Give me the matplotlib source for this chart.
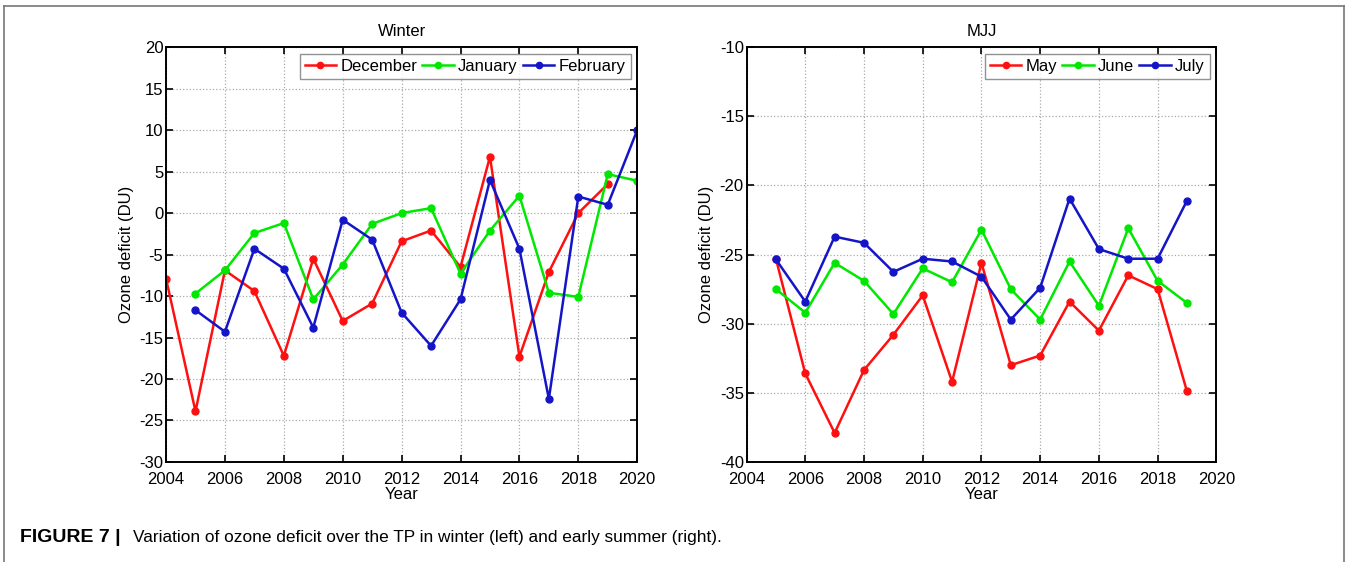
import numpy as np
import matplotlib.pyplot as plt
from matplotlib.lines import Line2D

plt.rcParams['font.family'] = ['Liberation Sans', 'DejaVu Sans']
plt.rcParams['axes.unicode_minus'] = False

# winter months, ozone deficit (DU)
years_dec = np.arange(2004, 2020)
december = [-7.9, -23.9, -6.9, -9.4, -17.2, -5.5, -13.0, -10.9, -3.4, -2.1,
            -6.5, 6.8, -17.3, -7.1, 0.0, 3.5]
years_janfeb = np.arange(2005, 2021)
january = [-9.7, -6.9, -2.4, -1.2, -10.4, -6.2, -1.3, 0.0, 0.6, -7.3,
           -2.1, 2.1, -9.6, -10.1, 4.7, 3.9]
february = [-11.7, -14.3, -4.3, -6.7, -13.8, -0.8, -3.2, -12.0, -16.0, -10.4,
            4.0, -4.3, -22.4, 2.0, 1.0, 10.0]

# early summer months
years_mjj = np.arange(2005, 2020)
may = [-25.3, -33.6, -37.9, -33.35, -30.8, -27.95, -34.2, -25.6, -33.0, -32.3,
       -28.4, -30.5, -26.5, -27.5, -34.9]
june = [-27.5, -29.2, -25.6, -26.9, -29.3, -26.0, -27.0, -23.2, -27.5, -29.7,
        -25.5, -28.7, -23.1, -26.9, -28.5]
july = [-25.35, -28.4, -23.7, -24.15, -26.25, -25.3, -25.5, -26.6, -29.7, -27.4,
        -20.95, -24.6, -25.3, -25.3, -21.1]

red = '#ff1010'
green = '#00e800'
blue = '#1515c8'

fig = plt.figure(figsize=(13.5, 5.62), dpi=100)
ax1 = fig.add_axes([0.123, 0.178, 0.349, 0.738])
ax2 = fig.add_axes([0.553, 0.178, 0.348, 0.738])

def style(ax, ylim, yticks):
    ax.set_xlim(2004, 2020)
    ax.set_xticks(np.arange(2004, 2021, 2))
    ax.set_ylim(*ylim)
    ax.set_yticks(yticks)
    ax.grid(True, linestyle=':', color='#aaaaaa', linewidth=0.9)
    ax.tick_params(direction='in', top=True, right=True, length=5,
                   width=1.2, labelsize=12, pad=2)
    ax.tick_params(axis='x', pad=7)
    for s in ax.spines.values():
        s.set_linewidth(1.4)
    ax.set_xlabel('Year', fontsize=12, labelpad=0)
    ax.set_ylabel('Ozone deficit (DU)', fontsize=12, labelpad=4)

kw = dict(marker='o', markersize=5, linewidth=1.8)

ax1.plot(years_dec, december, color=red, label='December', **kw)
ax1.plot(years_janfeb, january, color=green, label='January', **kw)
ax1.plot(years_janfeb, february, color=blue, label='February', **kw)
style(ax1, (-30, 20), np.arange(-30, 21, 5))
ax1.set_title('Winter', fontsize=12, pad=8)

ax2.plot(years_mjj, may, color=red, label='May', **kw)
ax2.plot(years_mjj, june, color=green, label='June', **kw)
ax2.plot(years_mjj, july, color=blue, label='July', **kw)
style(ax2, (-40, -10), np.arange(-40, -9, 5))
ax2.set_title('MJJ', fontsize=12, pad=8)

for ax in (ax1, ax2):
    leg = ax.legend(loc='upper right', ncol=3, fontsize=12, fancybox=False,
                    handlelength=1.9, handletextpad=0.25, columnspacing=0.3,
                    borderpad=0.3, borderaxespad=0.4, markerscale=0.9)
    leg.get_frame().set_edgecolor('#777777')
    leg.get_frame().set_linewidth(1.0)

# outer frame, open at the bottom
for xs, ys in [([0.003, 0.003], [0.0, 0.989]),
               ([0.003, 0.9955], [0.989, 0.989]),
               ([0.9955, 0.9955], [0.989, 0.0])]:
    fig.add_artist(Line2D(xs, ys, transform=fig.transFigure,
                          color='#777777', linewidth=1.2))

fig.text(0.015, 0.044, 'FIGURE 7 |', fontsize=14, fontweight='bold',
         va='center')
fig.text(0.0985, 0.044,
         'Variation of ozone deficit over the TP in winter (left) and early summer (right).',
         fontsize=12.4, va='center')

fig.savefig('out.png', dpi=100)
